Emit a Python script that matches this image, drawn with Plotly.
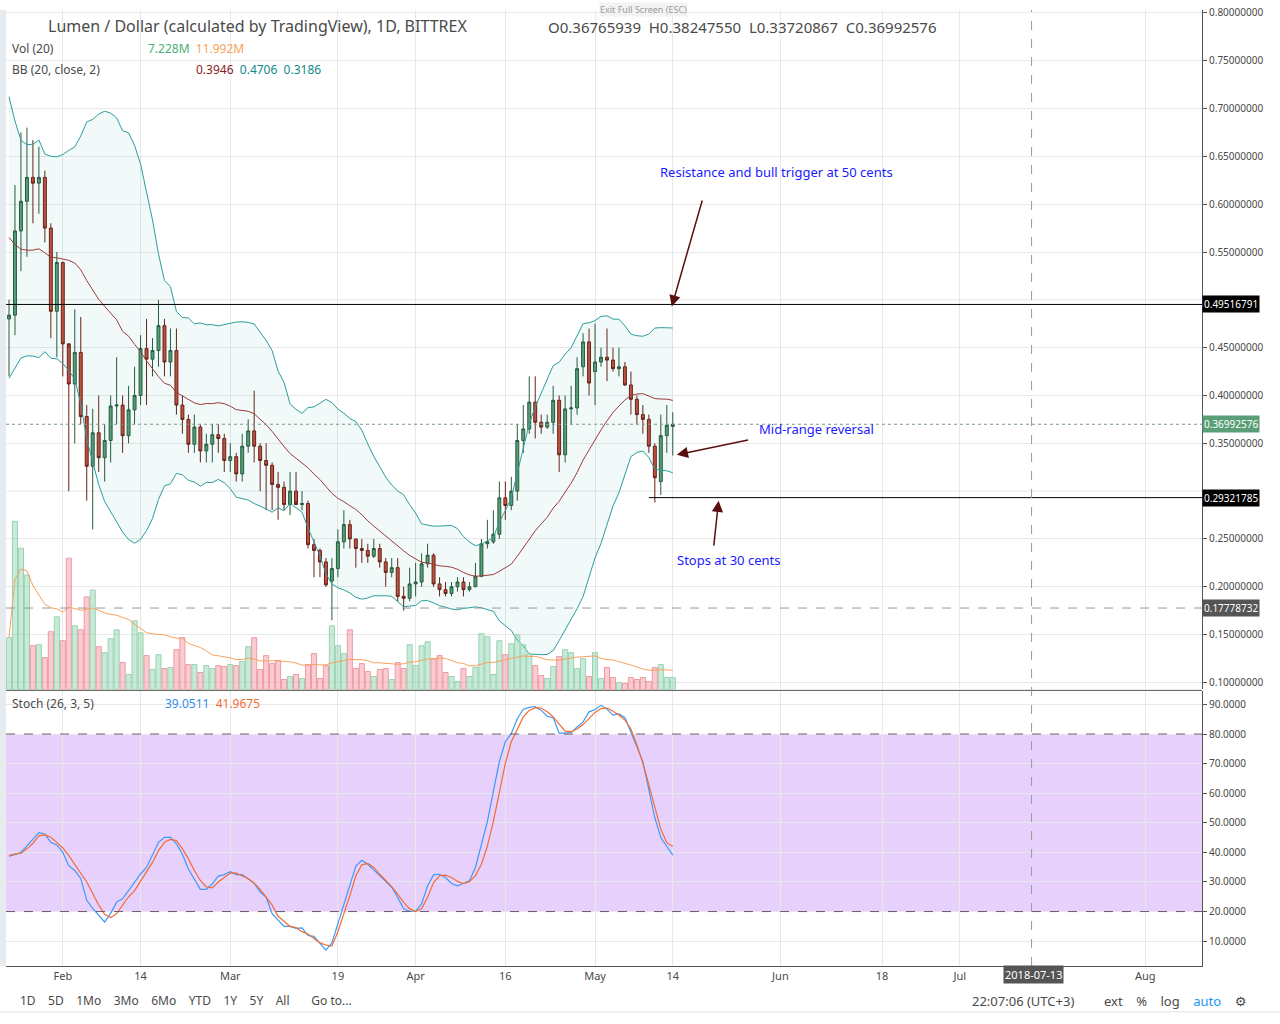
import pandas as pd
import numpy as np
import plotly.graph_objects as go

start_date = "2018-01-23"
prior_closes = [0.72,0.70,0.65,0.62,0.60,0.66,0.58,0.55,0.48,0.44,0.50,0.52,0.55,0.56,0.53,0.50,0.52,0.54,0.60]
closes = [0.484,0.572,0.603,0.628,0.622,0.628,0.575,0.488,0.539,0.454,
          0.412,0.445,0.378,0.326,0.361,0.335,0.353,0.389,0.390,0.358,
          0.385,0.400,0.449,0.438,0.447,0.473,0.435,0.447,0.390,0.375,
          0.349,0.367,0.342,0.349,0.359,0.355,0.332,0.336,0.318,0.347,
          0.363,0.347,0.332,0.327,0.307,0.304,0.286,0.300,0.286,0.287,
          0.244,0.238,0.226,0.202,0.219,0.247,0.265,0.250,0.240,0.238,
          0.232,0.240,0.226,0.215,0.220,0.190,0.188,0.203,0.205,0.224,
          0.233,0.203,0.197,0.193,0.200,0.205,0.197,0.200,0.211,0.245,
          0.247,0.255,0.293,0.285,0.300,0.353,0.365,0.393,0.372,0.367,
          0.372,0.395,0.338,0.386,0.387,0.428,0.456,0.413,0.435,0.440,
          0.437,0.428,0.430,0.411,0.396,0.380,0.375,0.347,0.314,0.358,
          0.369,0.36992576]
opens = [0.480,0.484,0.572,0.603,0.628,0.622,0.628,0.575,0.488,0.539,
         0.454,0.412,0.445,0.378,0.326,0.361,0.335,0.353,0.389,0.390,
         0.358,0.385,0.400,0.449,0.438,0.447,0.473,0.435,0.447,0.390,
         0.375,0.349,0.367,0.342,0.349,0.359,0.355,0.332,0.336,0.318,
         0.347,0.363,0.347,0.332,0.327,0.307,0.304,0.286,0.300,0.286,
         0.287,0.244,0.238,0.226,0.206,0.219,0.247,0.265,0.250,0.240,
         0.238,0.232,0.240,0.226,0.215,0.220,0.190,0.188,0.203,0.205,
         0.224,0.233,0.203,0.197,0.193,0.200,0.205,0.197,0.200,0.211,
         0.245,0.247,0.255,0.293,0.285,0.300,0.353,0.365,0.393,0.372,
         0.367,0.372,0.395,0.338,0.386,0.387,0.430,0.456,0.425,0.435,
         0.440,0.437,0.428,0.430,0.411,0.396,0.380,0.375,0.347,0.310,
         0.358,0.36765939]
highs = [0.500,0.620,0.675,0.680,0.667,0.660,0.635,0.580,0.550,0.540,
         0.450,0.490,0.482,0.390,0.386,0.400,0.370,0.400,0.440,0.400,
         0.410,0.430,0.463,0.480,0.460,0.500,0.480,0.470,0.470,0.400,
         0.380,0.380,0.370,0.360,0.370,0.370,0.360,0.350,0.340,0.360,
         0.375,0.405,0.350,0.350,0.330,0.320,0.310,0.320,0.320,0.300,
         0.290,0.250,0.240,0.230,0.230,0.260,0.280,0.270,0.250,0.250,
         0.245,0.250,0.245,0.230,0.230,0.230,0.200,0.220,0.225,0.235,
         0.245,0.235,0.210,0.205,0.205,0.210,0.210,0.205,0.225,0.250,
         0.270,0.280,0.310,0.310,0.315,0.370,0.390,0.420,0.420,0.380,
         0.380,0.410,0.400,0.400,0.410,0.440,0.465,0.470,0.475,0.450,
         0.470,0.450,0.450,0.435,0.425,0.400,0.390,0.380,0.350,0.380,
         0.390,0.38247550]
lows = [0.420,0.463,0.530,0.545,0.580,0.590,0.560,0.460,0.440,0.420,
        0.300,0.350,0.370,0.290,0.260,0.320,0.310,0.330,0.370,0.340,
        0.350,0.370,0.390,0.390,0.420,0.430,0.420,0.420,0.380,0.360,
        0.340,0.340,0.330,0.330,0.330,0.340,0.320,0.320,0.310,0.310,
        0.340,0.330,0.300,0.280,0.280,0.270,0.280,0.275,0.290,0.280,
        0.240,0.210,0.210,0.200,0.165,0.210,0.240,0.240,0.220,0.225,
        0.225,0.230,0.220,0.200,0.210,0.185,0.175,0.185,0.190,0.200,
        0.220,0.200,0.190,0.190,0.190,0.195,0.190,0.195,0.200,0.210,
        0.240,0.245,0.250,0.270,0.280,0.290,0.340,0.360,0.355,0.360,
        0.365,0.360,0.320,0.330,0.370,0.380,0.420,0.400,0.390,0.430,
        0.415,0.425,0.420,0.410,0.380,0.370,0.360,0.340,0.288,0.296,
        0.340,0.33720867]
volumes_m = [31.2,101.4,85.2,69,26.4,27,19.2,34.8,43.8,29.4,79.2,38.4,36,55.8,60,25.8,22.2,30.6,36,16.2,
             9,41.4,34.2,20.4,12,21,12.6,13.2,24,31.2,15,15,10.2,14.4,12.6,14.4,13.8,15,14.4,16.8,
             25.8,31.2,12,20.4,15.6,17.4,6,7.8,9,6.6,15,21.6,6.6,14.4,38.4,26.4,
             21.6,36,12.6,15.6,10.8,7.8,12,12.6,6,16.2,12.6,27,14.4,26.4,28.8,18.6,20.4,10.2,7.8,4.8,
             12.6,7.8,13.2,33.6,31.8,9,29.4,21,27.6,33,27,21.6,14.4,8.4,6.6,13.8,19.8,24,22.2,12.6,
             18.6,7.8,22.2,6.6,13.2,7.2,4.2,3.6,7.2,6,7.2,4.8,13.2,15,7.2,7.228]
stoch_k = [38.7,39.2,40,42.3,44.5,46.7,46.2,43.4,42.5,40,35.5,33.9,31.2,23.8,21.1,18.7,16.5,19.4,23.2,24.3,
           27.1,29.6,32.7,34.9,39.4,43.4,45.1,45.1,42.9,39.4,34.4,31,27.5,27.5,29.4,32,32.5,33.5,32.5,32.5,
           31.2,29.6,26.6,24.9,19.3,17.1,15,15,14.3,14.5,11.9,11.6,9.4,7,9.4,16.1,
           22.6,29.3,35.4,37.3,36,34.1,32.1,30.2,28.2,24.8,20.9,20.1,20.1,22.6,28.7,32.4,32.6,31.5,29.5,28.7,
           29.5,30.4,34.9,42.7,50.5,60.6,70.7,77.4,80.2,85.2,88.4,89,89.3,88,86,85.5,80.3,80.3,80.5,82.4,
           84.1,87.5,88.3,89.7,88.4,86.4,86.8,85.5,80.8,75.7,70.7,61.7,51.7,45,41.8,39.0511]
stoch_d = [38.9,39.5,39.7,41.2,43.1,45.6,45.9,45.1,43.4,41.5,38.9,35.9,33.3,30,26.1,22.2,19.1,18,19.3,22.2,
           25,27.1,30.3,33.3,36.6,40.6,43.4,44.4,44,41.2,37.8,33.9,30.5,28.3,28,30,31.6,33,33,32.2,
           31.2,29.6,27.5,24.9,22.2,18.4,16.7,15,14.6,13.2,12.4,11,9.4,8.7,8.3,13.2,
           19.2,25.4,32.1,35.8,36.3,34.9,32.6,30.6,28.4,25.9,23.1,20.9,20.1,20.9,24.8,29.8,32.1,32.3,31.5,30.2,
           29.5,30.1,32.1,36,42.2,50.5,60.6,70.1,77.4,81.9,85.8,88,88.9,88.8,87.5,85.8,83.2,81,80.8,81.7,
           83.2,85.2,87.3,88.6,88.8,87.7,86.4,84.7,81.7,76.3,70.1,62.9,55,47.8,43.3,41.9675]
tick_dates = ["2018-02-01","2018-02-14","2018-03-01","2018-03-19","2018-04-01","2018-04-16",
              "2018-05-01","2018-05-14","2018-06-01","2018-06-18","2018-07-01","2018-08-01"]
tick_labels = ["Feb","14","Mar","19","Apr","16","May","14","Jun","18","Jul","Aug"]
price_ticks = [0.10,0.15,0.20,0.25,0.35,0.40,0.45,0.55,0.60,0.65,0.70,0.75,0.80]
stoch_ticks = [10,20,30,40,50,60,70,80,90]

dates = pd.date_range(start_date, periods=len(closes), freq="D")
allc = pd.Series(prior_closes + closes)
basis = allc.rolling(20).mean().iloc[len(prior_closes):].values
sd = allc.rolling(20).std(ddof=0).iloc[len(prior_closes):].values
upper, lower = basis + 2 * sd, basis - 2 * sd
vol_ma = pd.Series(volumes_m).rolling(20, min_periods=1).mean().values
up = [c >= o for o, c in zip(opens, closes)]

fig = go.Figure()
fig.add_trace(go.Bar(x=dates, y=volumes_m, yaxis="y3", xaxis="x",
                     marker=dict(color=["rgba(120,200,160,0.4)" if u else "rgba(245,140,150,0.45)" for u in up],
                                 line=dict(color=["#98d4b2" if u else "#ee9aa3" for u in up], width=1)),
                     width=0.85 * 86400000, hoverinfo="skip"))
fig.add_trace(go.Scatter(x=dates, y=vol_ma, yaxis="y3", mode="lines", line=dict(color="#f7a15c", width=1)))
fig.add_trace(go.Scatter(x=dates, y=upper, mode="lines", line=dict(color="#2a9d9d", width=1)))
fig.add_trace(go.Scatter(x=dates, y=lower, mode="lines", line=dict(color="#2a9d9d", width=1),
                         fill="tonexty", fillcolor="rgba(0,128,128,0.05)"))
fig.add_trace(go.Scatter(x=dates, y=basis, mode="lines", line=dict(color="#9b3a3a", width=1)))
fig.add_trace(go.Candlestick(x=dates, open=opens, high=highs, low=lows, close=closes,
                             increasing=dict(fillcolor="#5a9e77", line=dict(color="#2a5a3c", width=1)),
                             decreasing=dict(fillcolor="#c94f3c", line=dict(color="#6b1f14", width=1)),
                             whiskerwidth=0))
fig.add_trace(go.Scatter(x=dates, y=stoch_k, xaxis="x2", yaxis="y2", mode="lines", line=dict(color="#3d9bf5", width=1.2)))
fig.add_trace(go.Scatter(x=dates, y=stoch_d, xaxis="x2", yaxis="y2", mode="lines", line=dict(color="#f36b32", width=1.2)))

xr = ["2018-01-22 12:00", "2018-08-10 12:00"]
grid = "#e8e8e8"
fig.update_layout(
    width=1280, height=1024, margin=dict(l=6, r=78, t=5, b=58),
    paper_bgcolor="white", plot_bgcolor="white", showlegend=False,
    font=dict(family="Noto Sans, DejaVu Sans", color="#4a4a4a"),
    xaxis=dict(domain=[0, 1], range=xr, anchor="y", tickvals=tick_dates, showticklabels=False,
               showgrid=True, gridcolor=grid, rangeslider=dict(visible=False), zeroline=False),
    xaxis2=dict(domain=[0, 1], range=xr, anchor="y2", matches="x", tickvals=tick_dates, ticktext=tick_labels,
                showgrid=True, gridcolor=grid, tickfont=dict(size=11, color="#4a4a4a"), ticks="",
                showline=True, linecolor="#555"),
    yaxis=dict(domain=[0.2893, 1], range=[0.0927, 0.803], side="right", tickvals=price_ticks,
               tickformat=".8f", tickfont=dict(size=10, color="#4a4a4a"), showgrid=True, gridcolor=grid,
               showline=True, linecolor="#555", ticks="outside", ticklen=4, tickcolor="#555", zeroline=False),
    yaxis3=dict(overlaying="y", range=[0, 410], visible=False),
    yaxis2=dict(domain=[0, 0.2872], range=[1.6, 94.4], side="right", tickvals=stoch_ticks,
                tickformat=".4f", tickfont=dict(size=10, color="#4a4a4a"), showgrid=True, gridcolor=grid,
                showline=True, linecolor="#555", ticks="outside", ticklen=4, tickcolor="#555", zeroline=False),
)

shapes = [
    dict(type="rect", xref="x2 domain", yref="y2", x0=0, x1=1, y0=20, y1=80, fillcolor="rgba(190,120,245,0.35)", line_width=0, layer="below"),
    dict(type="line", xref="x2 domain", yref="y2", x0=0, x1=1, y0=20, y1=20, line=dict(color="#6b5b6b", width=1, dash="dash")),
    dict(type="line", xref="x2 domain", yref="y2", x0=0, x1=1, y0=80, y1=80, line=dict(color="#6b5b6b", width=1, dash="dash")),
    dict(type="line", xref="paper", yref="paper", x0=0, x1=1.0, y0=0.2883, y1=0.2883, line=dict(color="#555", width=1)),
    dict(type="line", xref="x domain", yref="y", x0=0, x1=1, y0=0.30, y1=0.30, line=dict(color=grid, width=1), layer="below"),
    dict(type="line", xref="x domain", yref="y", x0=0, x1=1, y0=0.50, y1=0.50, line=dict(color=grid, width=1), layer="below"),
    dict(type="line", xref="x domain", yref="y", x0=0, x1=1, y0=0.49516791, y1=0.49516791, line=dict(color="black", width=1)),
    dict(type="line", xref="x", yref="y", x0="2018-05-10", x1="2018-08-10 12:00", y0=0.29321785, y1=0.29321785, line=dict(color="black", width=1)),
    dict(type="line", xref="x domain", yref="y", x0=0, x1=1, y0=0.36992576, y1=0.36992576, line=dict(color="#7a9a8a", width=1, dash="dot")),
    dict(type="line", xref="x domain", yref="y", x0=0, x1=1, y0=0.17778732, y1=0.17778732, line=dict(color="#999", width=1, dash="dash")),
    dict(type="line", xref="x", yref="paper", x0="2018-07-13", x1="2018-07-13", y0=0, y1=1, line=dict(color="#999", width=1, dash="dash")),
    dict(type="rect", xref="paper", yref="paper", x0=-0.01, x1=0.0, y0=0, y1=1, fillcolor="#e6ebef", line_width=0),
    dict(type="line", xref="paper", yref="paper", x0=-0.01, x1=1.07, y0=-0.048, y1=-0.048, line=dict(color="#e0e3e6", width=1)),
]
fig.update_layout(shapes=shapes)

ann = []
def txt(x, y, s, color="#4a4a4a", size=12, xanchor="left", **kw):
    ann.append(dict(xref="paper", yref="paper", x=x, y=y, text=s, showarrow=False, xanchor=xanchor,
                    yanchor="middle", font=dict(size=size, color=color), **kw))
W, H = 1196.0, 961.0
def px(xp, yp, s, **kw):
    txt((xp - 6) / W, (966 - yp) / H, s, **kw)

px(46, 21, "Lumen / Dollar (calculated by TradingView), 1D, BITTREX", size=16)
px(546, 22, "O0.36765939  H0.38247550  L0.33720867  C0.36992576", size=15)
px(10, 44, "Vol (20)", size=12)
px(146, 44, "<span style='color:#4caf7a'>7.228M</span>  <span style='color:#f7a15c'>11.992M</span>", size=12)
px(10, 65, "BB (20, close, 2)", size=12)
px(194, 65, "<span style='color:#8b1a1a'>0.3946</span>  <span style='color:#0f8a8a'>0.4706</span>  <span style='color:#0f8a8a'>0.3186</span>", size=12)
px(10, 702, "Stoch (26, 3, 5)", size=12)
px(163, 702, "<span style='color:#2f8ef0'>39.0511</span>  <span style='color:#f36b32'>41.9675</span>", size=12)
px(643, 4, "Exit Full Screen (ESC)", size=9, color="#999", xanchor="center", bgcolor="#f3f3f3", borderpad=0)
px(776, 168, "Resistance and bull trigger at 50 cents", size=13, color="#1a1aff", xanchor="center")
px(816, 426, "Mid-range reversal", size=13, color="#1a1aff", xanchor="center")
px(728, 558, "Stops at 30 cents", size=13, color="#1a1aff", xanchor="center")
px(18, 1001, "1D &nbsp;&nbsp; 5D &nbsp;&nbsp; 1Mo &nbsp;&nbsp; 3Mo &nbsp;&nbsp; 6Mo &nbsp;&nbsp; YTD &nbsp;&nbsp; 1Y &nbsp;&nbsp; 5Y &nbsp;&nbsp; All &nbsp;&nbsp;&nbsp;&nbsp;&nbsp; Go to...", size=12)
px(970, 1001, "22:07:06 (UTC+3)", size=13)
px(1102, 1001, "ext &nbsp;&nbsp; % &nbsp;&nbsp; log &nbsp;&nbsp; <span style='color:#2196f3'>auto</span> &nbsp;&nbsp; ⚙", size=13)
px(1033, 975, "2018-07-13", size=11, color="white", xanchor="center", bgcolor="#555")

def label(yv, s, bg, fg="white"):
    ann.append(dict(xref="paper", yref="y", x=1.0, y=yv, text=s, showarrow=False, xanchor="left",
                    font=dict(size=10, color=fg), bgcolor=bg, borderpad=1))
label(0.49516791, "0.49516791", "black")
label(0.36992576, "0.36992576", "#5a9e77")
label(0.29321785, "0.29321785", "black")
label(0.17778732, "0.17778732", "#555")

def arrow(x0, y0, x1, y1):
    ann.append(dict(xref="x", yref="y", axref="x", ayref="y", x=x1, y=y1, ax=x0, ay=y0, text="",
                    showarrow=True, arrowhead=2, arrowsize=1.5, arrowwidth=1.5, arrowcolor="#5a0f0f"))
arrow("2018-05-19", 0.6055, "2018-05-13 20:00", 0.493)
arrow("2018-05-26 20:00", 0.3538, "2018-05-14 16:00", 0.338)
arrow("2018-05-20 20:00", 0.2415, "2018-05-21 16:00", 0.290)
fig.update_layout(annotations=ann)
fig.write_html("out.html", config={"displayModeBar": False},
               post_script="document.body.style.margin='0';document.body.style.padding='0';")
